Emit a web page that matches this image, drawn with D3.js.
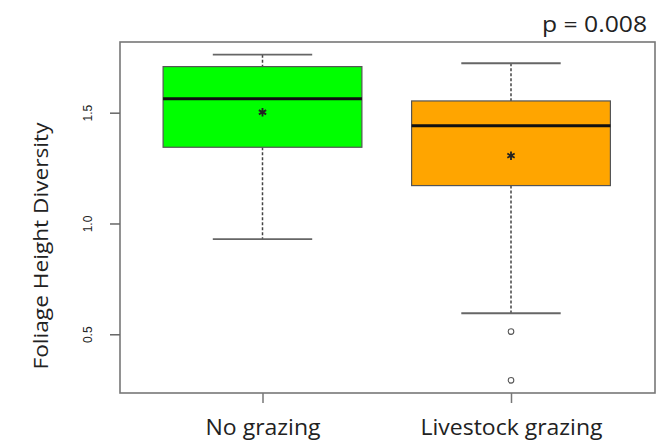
<!DOCTYPE html>
<head>
  <meta charset="utf-8">
  <script src="https://d3js.org/d3.v7.min.js"></script>
  <style>
    body { margin:0; background:#fff; }
    text { font-family: "Open Sans", sans-serif; fill:#222; }
  </style>
</head>
<body>
  <script>
    // data
    var groups = ["No grazing", "Livestock grazing"];
    var groupPos = [1, 2];
    var lowWhisker = [0.929, 0.595];
    var q1 = [1.344, 1.171];
    var median = [1.563, 1.441];
    var q3 = [1.708, 1.553];
    var highWhisker = [1.762, 1.723];
    var means = [1.502, 1.306];
    var outliers = [[], [0.512, 0.292]];
    var fills = ["#00ff00", "#ffa500"];
    var yTicks = [0.5, 1.0, 1.5];

    var width = 666, height = 448;
    var frame = {left: 120, right: 655, top: 42, bottom: 393};

    var svg = d3.select("body").append("svg")
      .attr("width", width)
      .attr("height", height);

    var y = d3.scaleLinear()
      .domain([0.235, 1.819])
      .range([frame.bottom, frame.top]);

    var x = d3.scaleLinear()
      .domain([1, 2])
      .range([262.5, 511]);

    var boxHalf = 0.4, capHalf = 0.2;

    // plot frame
    svg.append("rect")
      .attr("x", frame.left).attr("y", frame.top)
      .attr("width", frame.right - frame.left)
      .attr("height", frame.bottom - frame.top)
      .attr("fill", "none").attr("stroke", "#777").attr("stroke-width", 1.6);

    var g = svg.selectAll(".box")
      .data(groups)
      .enter().append("g").attr("class", "box");

    // whiskers (dashed)
    g.append("line")
      .attr("x1", function(d, i) { return x(groupPos[i]); })
      .attr("x2", function(d, i) { return x(groupPos[i]); })
      .attr("y1", function(d, i) { return y(highWhisker[i]); })
      .attr("y2", function(d, i) { return y(q3[i]); })
      .attr("stroke", "#444").attr("stroke-width", 1.5).attr("stroke-dasharray", "3,2");
    g.append("line")
      .attr("x1", function(d, i) { return x(groupPos[i]); })
      .attr("x2", function(d, i) { return x(groupPos[i]); })
      .attr("y1", function(d, i) { return y(q1[i]); })
      .attr("y2", function(d, i) { return y(lowWhisker[i]); })
      .attr("stroke", "#444").attr("stroke-width", 1.5).attr("stroke-dasharray", "3,2");

    // caps
    [highWhisker, lowWhisker].forEach(function(arr) {
      g.append("line")
        .attr("x1", function(d, i) { return x(groupPos[i] - capHalf); })
        .attr("x2", function(d, i) { return x(groupPos[i] + capHalf); })
        .attr("y1", function(d, i) { return y(arr[i]); })
        .attr("y2", function(d, i) { return y(arr[i]); })
        .attr("stroke", "#666").attr("stroke-width", 1.8);
    });

    // boxes
    g.append("rect")
      .attr("x", function(d, i) { return x(groupPos[i] - boxHalf); })
      .attr("width", function(d, i) { return x(groupPos[i] + boxHalf) - x(groupPos[i] - boxHalf); })
      .attr("y", function(d, i) { return y(q3[i]); })
      .attr("height", function(d, i) { return y(q1[i]) - y(q3[i]); })
      .attr("fill", function(d, i) { return fills[i]; })
      .attr("stroke", "#555").attr("stroke-width", 1.2);

    // medians
    g.append("line")
      .attr("x1", function(d, i) { return x(groupPos[i] - boxHalf); })
      .attr("x2", function(d, i) { return x(groupPos[i] + boxHalf); })
      .attr("y1", function(d, i) { return y(median[i]); })
      .attr("y2", function(d, i) { return y(median[i]); })
      .attr("stroke", "#111").attr("stroke-width", 3);

    // means
    g.append("path")
      .attr("d", d3.symbol(d3.symbolAsterisk).size(50))
      .attr("transform", function(d, i) { return "translate(" + x(groupPos[i]) + "," + y(means[i]) + ")"; })
      .attr("stroke", "#222").attr("stroke-width", 1.8).attr("fill", "none");

    // outliers
    g.each(function(d, i) {
      d3.select(this).selectAll(".out")
        .data(outliers[i])
        .enter().append("circle")
        .attr("class", "out")
        .attr("cx", x(groupPos[i]))
        .attr("cy", function(v) { return y(v); })
        .attr("r", 2.8)
        .attr("fill", "none").attr("stroke", "#555").attr("stroke-width", 1.1);
    });

    // y axis
    var yAxis = svg.append("g")
      .attr("transform", "translate(" + frame.left + ",0)")
      .call(d3.axisLeft(y).tickValues(yTicks).tickSize(10).tickFormat(d3.format(".1f")));
    yAxis.select(".domain").remove();
    yAxis.selectAll(".tick line").attr("stroke", "#666").attr("stroke-width", 1.5);
    yAxis.selectAll(".tick text")
      .attr("transform", "rotate(-90)")
      .attr("x", 0).attr("y", -32).attr("dy", "0.35em")
      .attr("text-anchor", "middle")
      .style("font-size", "12px").style("font-family", "'Liberation Sans', sans-serif")
      .attr("fill", "#666");

    // x axis
    var xAxis = svg.append("g")
      .attr("transform", "translate(0," + frame.bottom + ")")
      .call(d3.axisBottom(x).tickValues(groupPos).tickSize(10).tickFormat(function(d, i) { return groups[i]; }));
    xAxis.select(".domain").remove();
    xAxis.selectAll(".tick line").attr("stroke", "#777").attr("stroke-width", 1.5);
    xAxis.selectAll(".tick text")
      .attr("y", 42).attr("dy", 0)
      .attr("fill", "#222")
      .style("font-size", "21px")
      .attr("textLength", function(d, i) { return [115, 182][i]; })
      .attr("lengthAdjust", "spacingAndGlyphs");

    // axis title
    svg.append("text")
      .attr("transform", "translate(48,246) rotate(-90)")
      .attr("text-anchor", "middle")
      .style("font-size", "20px")
      .attr("textLength", 247).attr("lengthAdjust", "spacingAndGlyphs")
      .text("Foliage Height Diversity");

    // p value
    svg.append("text")
      .attr("x", 647).attr("y", 32)
      .attr("text-anchor", "end")
      .style("font-size", "21px")
      .attr("textLength", 105).attr("lengthAdjust", "spacingAndGlyphs")
      .text("p = 0.008");
  </script>
</body>
